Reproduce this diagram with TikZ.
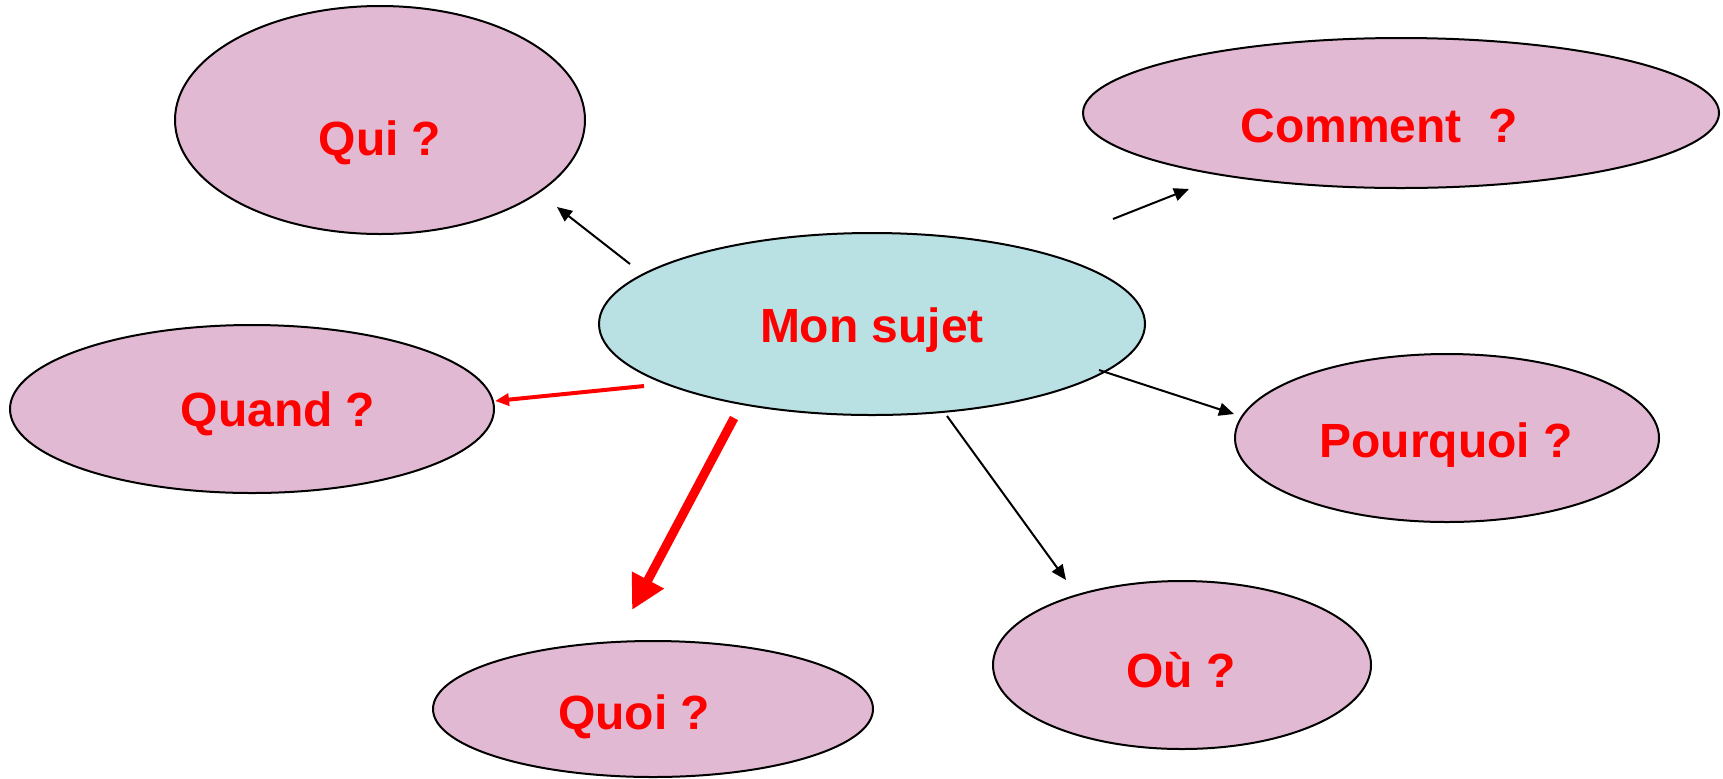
\documentclass[tikz,border=0pt]{standalone}
\usepackage{fontspec}
\setmainfont{Liberation Sans}
\usetikzlibrary{shapes.geometric,arrows.meta}
\definecolor{bulle}{HTML}{E2B9D2}
\definecolor{centre}{HTML}{B9E0E3}
\tikzset{bubble/.style={ellipse, draw, line width=1pt, fill=bulle, inner sep=0pt},
         word/.style={text=red, font=\bfseries\fontsize{24}{28}\selectfont},
         arr/.style={line width=1pt, -{Triangle[length=7.5pt,width=6.5pt]}},}

\begin{document}
\begin{tikzpicture}[x=0.5pt,y=-0.5pt]
        \useasboundingbox (0,0) rectangle (1723,778);
        % Nodes
        \node[bubble, fill=centre, minimum width=273pt, minimum height=91pt] (sujet) at (872,324) {};
        \node[bubble, minimum width=205pt, minimum height=114pt] (qui) at (380,120) {};
        \node[bubble, minimum width=318pt, minimum height=75pt] (comment) at (1401,113) {};
        \node[bubble, minimum width=242pt, minimum height=84pt] (quand) at (252,409) {};
        \node[bubble, minimum width=212pt, minimum height=84pt] (pourquoi) at (1447,438) {};
        \node[bubble, minimum width=189pt, minimum height=84pt] (ou) at (1182,665) {};
        \node[bubble, minimum width=220pt, minimum height=68pt] (quoi) at (653,709) {};
        % Texts
        \node[word] (sujetT) at (872,330) {Mon sujet};
        \node[word] (quiT) at (380,143) {Qui ?};
        \node[word] (commentT) at (1379,126) {Comment \ ?};
        \node[word] (quandT) at (278,414) {Quand ?};
        \node[word] (pourquoiT) at (1446,445) {Pourquoi ?};
        \node[word] (ouT) at (1181,670) {Où ?};
        \node[word] (quoiT) at (634,717) {Quoi ?};
        % Arrow ends
        \coordinate (s1) at (630,264); \coordinate (e1) at (557,207);
        \coordinate (s2) at (1113,219); \coordinate (e2) at (1189,189);
        \coordinate (s3) at (644,386); \coordinate (e3) at (495,401);
        \coordinate (s4) at (1099,370); \coordinate (e4) at (1234,414);
        \coordinate (s5) at (947,416); \coordinate (e5) at (1066,580);
        \coordinate (s6) at (734,418); \coordinate (e6) at (632,610);
        % Paths
        \draw[arr] (s1) -- (e1);
        \draw[arr] (s2) -- (e2);
        \draw[arr] (s4) -- (e4);
        \draw[arr] (s5) -- (e5);
        \draw[red, line width=2pt, -{Triangle[length=7pt,width=6pt]}] (s3) -- (e3);
        \draw[red, line width=4.5pt, -{Triangle[length=17pt,width=17pt]}] (s6) -- (e6);
    \end{tikzpicture}
\end{document}
